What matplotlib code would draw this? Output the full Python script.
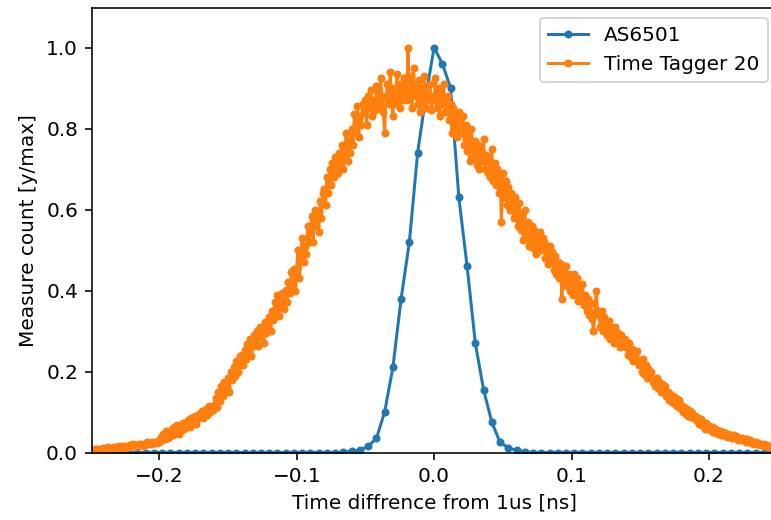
import numpy as np
import matplotlib
matplotlib.use("Agg")
import matplotlib.pyplot as plt

# ---- AS6501 (narrow peak), bins of ~6 ps ----
as_step = 0.006
as_index = list(range(-41, 42))
as_core = {
    -11: 0.001, -10: 0.003, -9: 0.006, -8: 0.015, -7: 0.035, -6: 0.10,
    -5: 0.21, -4: 0.38, -3: 0.52, -2: 0.74, -1: 0.88, 0: 1.0,
    1: 0.96, 2: 0.90, 3: 0.63, 4: 0.46, 5: 0.27, 6: 0.155, 7: 0.075,
    8: 0.025, 9: 0.012, 10: 0.005, 11: 0.002,
}
as_x = [k * as_step for k in as_index]
as_y = [as_core.get(k, 0.0) for k in as_index]

# ---- Time Tagger 20 (wide noisy peak), bins of 1 ps starting at -0.250 ns ----
tt_start = -0.250
tt_step = 0.001
tt_y = [
    0.004, 0.007, 0.005, 0.008, 0.006, 0.009, 0.005, 0.008, 0.007, 0.010,   # -0.250
    0.009, 0.012, 0.010, 0.013, 0.009, 0.012, 0.011, 0.014, 0.010, 0.013,   # -0.240
    0.012, 0.016, 0.013, 0.015, 0.011, 0.017, 0.014, 0.016, 0.013, 0.018,   # -0.230
    0.015, 0.020, 0.017, 0.019, 0.016, 0.021, 0.018, 0.022, 0.017, 0.020,   # -0.220
    0.021, 0.025, 0.020, 0.024, 0.022, 0.027, 0.023, 0.026, 0.024, 0.029,   # -0.210
    0.027, 0.038, 0.030, 0.045, 0.033, 0.052, 0.036, 0.048, 0.040, 0.058,   # -0.200
    0.043, 0.062, 0.050, 0.068, 0.046, 0.060, 0.055, 0.072, 0.058, 0.065,   # -0.190
    0.068, 0.080, 0.063, 0.085, 0.072, 0.078, 0.090, 0.070, 0.084, 0.095,   # -0.180
    0.088, 0.102, 0.085, 0.098, 0.108, 0.092, 0.115, 0.100, 0.112, 0.105,   # -0.170
    0.118, 0.135, 0.112, 0.150, 0.128, 0.165, 0.140, 0.175, 0.152, 0.160,   # -0.160
    0.185, 0.150, 0.200, 0.178, 0.210, 0.190, 0.225, 0.198, 0.215, 0.238,   # -0.150
    0.240, 0.215, 0.252, 0.230, 0.268, 0.245, 0.280, 0.238, 0.262, 0.290,   # -0.140
    0.275, 0.300, 0.262, 0.310, 0.285, 0.305, 0.270, 0.322, 0.295, 0.315,   # -0.130
    0.335, 0.300, 0.350, 0.328, 0.372, 0.345, 0.390, 0.338, 0.368, 0.395,   # -0.120
    0.380, 0.355, 0.402, 0.372, 0.420, 0.395, 0.445, 0.410, 0.452, 0.400,   # -0.110
    0.455, 0.500, 0.430, 0.480, 0.530, 0.470, 0.510, 0.490, 0.560, 0.520,   # -0.100
    0.545, 0.585, 0.520, 0.600, 0.560, 0.590, 0.545, 0.620, 0.580, 0.640,   # -0.090
    0.650, 0.610, 0.680, 0.640, 0.700, 0.660, 0.715, 0.680, 0.730, 0.700,   # -0.080
    0.690, 0.740, 0.705, 0.760, 0.700, 0.745, 0.790, 0.720, 0.770, 0.740,   # -0.070
    0.800, 0.760, 0.835, 0.790, 0.855, 0.780, 0.830, 0.810, 0.860, 0.840,   # -0.060
    0.870, 0.810, 0.880, 0.850, 0.895, 0.830, 0.870, 0.845, 0.905, 0.860,   # -0.050
    0.850, 0.925, 0.880, 0.840, 0.790, 0.875, 0.910, 0.860, 0.940, 0.880,   # -0.040
    0.830, 0.900, 0.860, 0.935, 0.880, 0.850, 0.910, 0.870, 0.925, 0.895,   # -0.030
    0.870, 1.000, 0.880, 0.930, 0.850, 0.950, 0.880, 0.905, 0.860, 0.920,   # -0.020
    0.840, 0.900, 0.865, 0.930, 0.850, 0.895, 0.870, 0.910, 0.845, 0.880,   # -0.010
    0.870, 0.925, 0.850, 0.900, 0.830, 0.885, 0.860, 0.910, 0.840, 0.870,   # 0.000
    0.880, 0.820, 0.860, 0.790, 0.850, 0.800, 0.835, 0.780, 0.840, 0.810,   # 0.010
    0.790, 0.830, 0.760, 0.810, 0.745, 0.790, 0.720, 0.800, 0.760, 0.730,   # 0.020
    0.770, 0.710, 0.760, 0.700, 0.745, 0.720, 0.775, 0.700, 0.735, 0.690,   # 0.030
    0.720, 0.680, 0.750, 0.670, 0.715, 0.660, 0.700, 0.640, 0.690, 0.570,   # 0.040
    0.690, 0.630, 0.670, 0.610, 0.655, 0.600, 0.640, 0.620, 0.580, 0.630,   # 0.050
    0.600, 0.560, 0.615, 0.550, 0.590, 0.525, 0.600, 0.540, 0.570, 0.510,   # 0.060
    0.520, 0.560, 0.505, 0.550, 0.490, 0.535, 0.515, 0.545, 0.500, 0.530,   # 0.070
    0.520, 0.480, 0.505, 0.465, 0.510, 0.475, 0.495, 0.450, 0.485, 0.440,   # 0.080
    0.470, 0.430, 0.465, 0.380, 0.455, 0.420, 0.460, 0.410, 0.440, 0.400,   # 0.090
    0.425, 0.390, 0.440, 0.400, 0.430, 0.375, 0.410, 0.380, 0.415, 0.365,   # 0.100
    0.390, 0.350, 0.380, 0.340, 0.370, 0.330, 0.300, 0.345, 0.400, 0.350,   # 0.110
    0.340, 0.310, 0.350, 0.300, 0.335, 0.315, 0.290, 0.325, 0.280, 0.310,   # 0.120
    0.300, 0.270, 0.310, 0.285, 0.295, 0.260, 0.290, 0.275, 0.265, 0.280,   # 0.130
    0.260, 0.240, 0.270, 0.235, 0.255, 0.225, 0.245, 0.230, 0.250, 0.215,   # 0.140
    0.225, 0.200, 0.230, 0.195, 0.215, 0.185, 0.205, 0.190, 0.200, 0.175,   # 0.150
    0.180, 0.165, 0.185, 0.160, 0.175, 0.150, 0.170, 0.155, 0.165, 0.140,   # 0.160
    0.150, 0.130, 0.145, 0.125, 0.140, 0.120, 0.135, 0.115, 0.130, 0.110,   # 0.170
    0.118, 0.100, 0.112, 0.095, 0.108, 0.090, 0.102, 0.088, 0.098, 0.085,   # 0.180
    0.090, 0.078, 0.086, 0.070, 0.082, 0.068, 0.076, 0.058, 0.072, 0.064,   # 0.190
    0.066, 0.055, 0.062, 0.050, 0.060, 0.048, 0.056, 0.046, 0.053, 0.044,   # 0.200
    0.050, 0.042, 0.047, 0.039, 0.046, 0.040, 0.044, 0.036, 0.043, 0.038,   # 0.210
    0.040, 0.032, 0.037, 0.030, 0.036, 0.031, 0.034, 0.027, 0.033, 0.029,   # 0.220
    0.030, 0.024, 0.027, 0.021, 0.026, 0.020, 0.024, 0.018, 0.022, 0.019,   # 0.230
    0.020, 0.016, 0.018, 0.014, 0.017, 0.013, 0.015, 0.012, 0.014, 0.011,   # 0.240
]
tt_x = [tt_start + i * tt_step for i in range(len(tt_y))]

labels = ["AS6501", "Time Tagger 20"]

W, H = 771, 520
DPI = 144
fig = plt.figure(figsize=(W / DPI, H / DPI), dpi=DPI)
left_px, right_px, top_px, bottom_px = 92, 777.6, 8.3, 452.5
ax = fig.add_axes([left_px / W, (H - bottom_px) / H,
                   (right_px - left_px) / W, (bottom_px - top_px) / H])

ax.plot(as_x, as_y, marker=".", color="#1f77b4", label=labels[0])
ax.plot(tt_x, tt_y, marker=".", color="#ff7f0e", label=labels[1])

ax.set_xlim(-0.249, 0.25)
ax.set_ylim(0, 1.097)
ax.set_xticks([-0.2, -0.1, 0.0, 0.1, 0.2])
ax.set_yticks([0.0, 0.2, 0.4, 0.6, 0.8, 1.0])
ax.set_xlabel("Time diffrence from 1us [ns]")
ax.set_ylabel("Measure count [y/max]")
ax.legend(loc="upper right")

fig.savefig("out.png", dpi=DPI)
